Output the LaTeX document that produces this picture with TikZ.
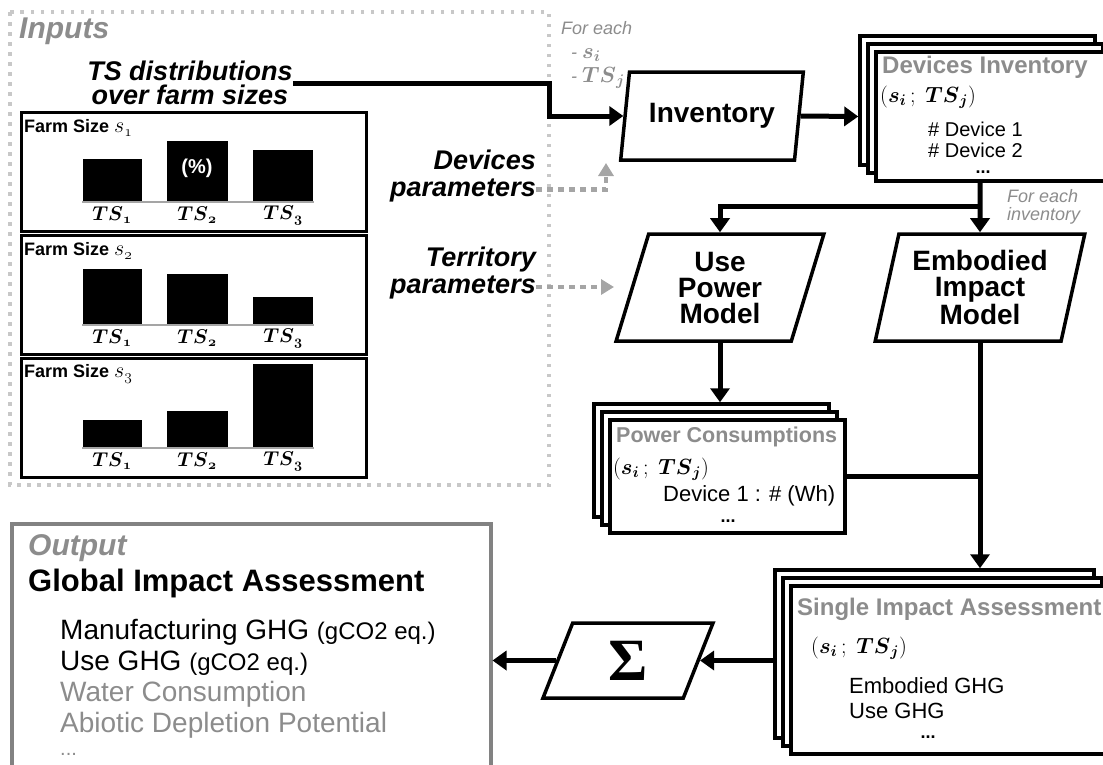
\IfFileExists{fix-cm.sty}{\RequirePackage{fix-cm}}{}
\documentclass[tikz,border=0pt]{standalone}
\usepackage[no-math]{fontspec}
\setmainfont{Liberation Sans}
\newfontfamily\greekserif{Liberation Serif}
\usetikzlibrary{shapes.geometric,shadows,arrows.meta}

\definecolor{txtgray}{RGB}{140,140,140}
\definecolor{dashgray}{RGB}{165,165,165}
\definecolor{dotgray}{RGB}{200,200,200}
\definecolor{boxgray}{RGB}{130,130,130}
\DeclareMathAlphabet{\mathbi}{OML}{cmm}{b}{it}
\newcommand{\fsz}[2]{\fontsize{#1pt}{#2pt}\selectfont}
\newcommand{\sits}{$(\mathbi{s}_{\mathbi{i}}\,;\;\mathbi{TS}_{\mathbi{j}})$}

\tikzset{
  flowarrow/.style={line width=5pt, -{Triangle[length=14pt,width=19pt]}},
  paramarrow/.style={dashgray, line width=4.5pt, dash pattern=on 6pt off 5pt,
    -{Triangle[length=13pt,width=15pt]}},
  model/.style={draw, line width=3.5pt, fill=white, trapezium,
    trapezium left angle=75, trapezium right angle=105, trapezium stretches=true,
    inner sep=0pt, align=center, font=\fsz{28}{26}\bfseries},
  stackbox/.style={draw, line width=3.5pt, fill=white, inner sep=0pt,
    copy shadow={shadow xshift=-16pt, shadow yshift=16pt, draw=black, fill=white, line width=3.5pt},
    copy shadow={shadow xshift=-8pt, shadow yshift=8pt, draw=black, fill=white, line width=3.5pt}},
  farmbox/.style={draw, line width=2.5pt, minimum width=345pt, minimum height=119pt,
    inner sep=0pt, anchor=north west},
  lbl/.style={inner sep=0pt, anchor=west},
}

\begin{document}
\begin{tikzpicture}[x=1pt, y=-1pt]
  \useasboundingbox (0,0) rectangle (1103,764);

  % inputs
  \draw[dotgray, line width=3.5pt, dash pattern=on 3.5pt off 6.5pt] (10,12) rectangle (549,485);
  \coordinate (inright) at (549,250);
  \node[lbl, txtgray, font=\fsz{30}{30}\bfseries\itshape] (inputs) at (19,31) {Inputs};
  \node[inner sep=0pt, align=center, font=\fsz{27}{24}\bfseries\itshape] (tsd) at (190,83)
    {TS distributions\\over farm sizes};

  \foreach \k/\ty/\ha/\hb/\hc in {1/111/42/60/51, 2/234/55/50/27, 3/357/27/36/83} {
    \node[farmbox] (farm\k) at (20,\ty) {};
    \node[lbl, font=\fsz{18}{18}\bfseries] (fs\k) at (24,\ty+17) {Farm Size \fsz{22}{22}$s_{\mathnormal{\k}}$};
    \fill (83,\ty+90) rectangle (142,\ty+90-\ha);
    \fill (167,\ty+90) rectangle (228,\ty+90-\hb);
    \fill (253,\ty+90) rectangle (313,\ty+90-\hc);
    \draw[dashgray, line width=2.5pt] (82,\ty+91) -- (314,\ty+91);
    \node[inner sep=0pt, font=\fsz{20}{20}] (ts\k a) at (112,\ty+104) {$\mathbi{TS}_{\mathbi{1}}$};
    \node[inner sep=0pt, font=\fsz{20}{20}] (ts\k b) at (197,\ty+104) {$\mathbi{TS}_{\mathbi{2}}$};
    \node[inner sep=0pt, font=\fsz{20}{20}] (ts\k c) at (283,\ty+104) {$\mathbi{TS}_{\mathbi{3}}$};
  }
  \node[white, inner sep=0pt, font=\fsz{20}{20}\bfseries] (pct) at (197,168) {(\%)};

  % parameters
  \node[inner sep=0pt, anchor=east, align=right, font=\fsz{27}{27}\bfseries\itshape] (dpar) at (536,176)
    {Devices\\parameters};
  \node[inner sep=0pt, anchor=east, align=right, font=\fsz{27}{27}\bfseries\itshape] (tpar) at (536,273.5)
    {Territory\\parameters};
  \coordinate (dtip) at (606,163);
  \coordinate (ttip) at (614,287);
  \coordinate (tfrom) at ([yshift=-13.5pt]tpar.east);
  \draw[paramarrow] ([yshift=-13.5pt]dpar.east) -| (dtip);
  \draw[paramarrow] (tfrom) -- (tfrom -| ttip);

  \node[anchor=north west, inner sep=0pt, align=left, txtgray, font=\fsz{18}{24}\itshape] (foreach) at (561,21)
    {For each\\\ \ - \fsz{22}{24}$\mathbi{s}_{\mathbi{i}}$\\\ \ - \fsz{22}{24}$\mathbi{TS}_{\mathbi{j}}$};

  % inventory
  \node[model, minimum width=183pt, minimum height=88pt] (inv) at (712,116) {Inventory};
  \draw[flowarrow] (tsd.east) -- (tsd.east -| inright) |- (inv.west);

  \node[stackbox, minimum width=235pt, minimum height=129pt] (dinv) at (993.5,116.5) {};
  \draw[flowarrow] (inv.east) -- ([xshift=-16pt]dinv.west);
  \node[lbl, txtgray, font=\fsz{24}{24}\bfseries] (dinvt) at (882,67) {Devices Inventory};
  \node[lbl, font=\fsz{22}{22}] (dinvs) at (880,97) {\sits};
  \node[lbl, font=\fsz{20}{20}] (dev1) at (928,129) {\# Device 1};
  \node[lbl, font=\fsz{20}{20}] (dev2) at (928,150) {\# Device 2};
  \node[inner sep=0pt, font=\fsz{18}{18}\bfseries] (dinvd) at (983,172) {...};

  % models
  \node[model, minimum width=208pt, minimum height=107pt] (use) at (720,287.5) {Use\\Power\\Model};
  \node[model, minimum width=210pt, minimum height=107pt] (emb) at (980,287.5) {Embodied\\Impact\\Model};
  \coordinate (split) at (980,206);
  \draw[flowarrow] (split |- dinv.south) -- (emb.north);
  \draw[flowarrow] (split) -| (use.north);
  \node[lbl, align=left, txtgray, font=\fsz{18}{18}\itshape] (feinv) at (1007,207) {For each\\inventory};

  % power consumptions
  \node[stackbox, minimum width=235pt, minimum height=113pt] (pc) at (727.5,476.5) {};
  \coordinate (pctop) at ([yshift=16pt]pc.north);
  \draw[flowarrow] (use.south) -- (use.south |- pctop);
  \node[lbl, txtgray, font=\fsz{21.5}{22}\bfseries] (pct) at (616,437) {Power Consumptions};
  \node[lbl, font=\fsz{22}{22}] (pcs) at (613,469) {\sits};
  \node[lbl, font=\fsz{22}{22}] (pcd) at (663,496) {Device 1 : \# (Wh)};
  \node[inner sep=0pt, font=\fsz{18}{18}\bfseries] (pcdots) at (728,521) {...};
  \draw[line width=5pt] (pc.east) -- (pc.east -| emb.south);

  % single impact assessment
  \node[stackbox, minimum width=319pt, minimum height=168pt] (sia) at (950.5,670) {};
  \coordinate (siatop) at ([yshift=16pt]sia.north);
  \draw[flowarrow] (emb.south) -- (emb.south |- siatop);
  \node[lbl, txtgray, font=\fsz{24}{24}\bfseries] (siat) at (797,609) {Single Impact Assessment};
  \node[lbl, font=\fsz{22}{22}] (sias) at (811,648) {\sits};
  \node[lbl, font=\fsz{22}{22}] (emg) at (849,686) {Embodied GHG};
  \node[lbl, font=\fsz{22}{22}] (usg) at (849,711) {Use GHG};
  \node[inner sep=0pt, font=\fsz{18}{18}\bfseries] (siadots) at (928,737) {...};

  % sum and output
  \node[model, minimum width=171pt, minimum height=75pt, font=\fsz{60}{60}\greekserif\bfseries] (sum) at (628,660.5) {Σ};
  \coordinate (sialeft) at ([xshift=-16pt]sia.west);
  \draw[flowarrow] (sialeft |- sum.east) -- (sum.east);

  \node[draw=boxgray, line width=3.5pt, anchor=north west, minimum width=479pt, minimum height=260pt,
    inner sep=0pt] (out) at (10,522) {};
  \draw[flowarrow] (sum.west) -- (sum.west -| out.east);
  \node[lbl, txtgray, font=\fsz{30}{30}\bfseries\itshape] (outt) at (28,548) {Output};
  \node[lbl, font=\fsz{31}{31}\bfseries] (gia) at (28,583) {Global Impact Assessment};
  \node[lbl, font=\fsz{28}{28}] (mgh) at (60,632) {Manufacturing GHG \fsz{24}{24}(gCO2 eq.)};
  \node[lbl, font=\fsz{28}{28}] (ugh) at (60,663) {Use GHG \fsz{24}{24}(gCO2 eq.)};
  \node[lbl, txtgray, font=\fsz{28}{28}] (wat) at (60,694) {Water Consumption};
  \node[lbl, txtgray, font=\fsz{28}{28}] (adp) at (60,725) {Abiotic Depletion Potential};
  \node[lbl, txtgray, font=\fsz{20}{20}] (odots) at (60,754) {...};
\end{tikzpicture}
\end{document}
